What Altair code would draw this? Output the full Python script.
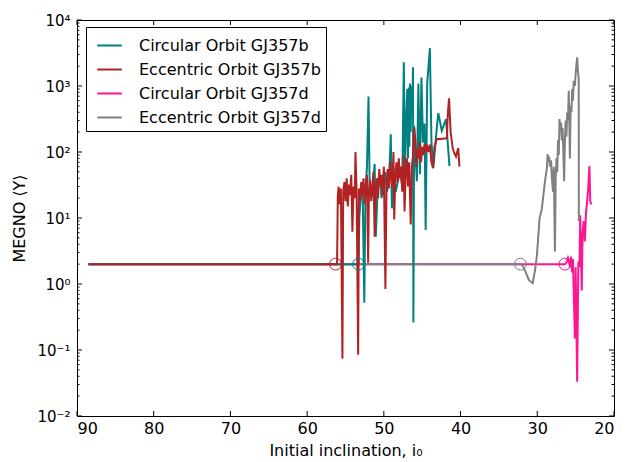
import altair as alt
import pandas as pd

# ---------------- data ----------------
series_names = ["Circular Orbit GJ357b", "Eccentric Orbit GJ357b",
                "Circular Orbit GJ357d", "Eccentric Orbit GJ357d"]
series_colors = ["#008080", "#B22222", "#FF1493", "#808080"]

teal_x = [88.5, 53.3, 53.2, 52.9, 52.75, 52.55, 52.4, 52.2, 52.0, 51.85, 51.6, 51.4, 51.2, 51.05,
          50.8, 50.5, 50.3, 50.1, 49.85, 49.6, 49.3, 49.1, 48.95, 48.7, 48.45, 48.2, 47.9, 47.6,
          47.4, 47.25, 47.1, 46.95, 46.85, 46.77, 46.68, 46.6, 46.5, 46.4, 46.3, 46.2, 46.15,
          46.05, 45.7, 45.5, 45.3, 45.1, 44.9, 44.7, 44.55, 44.35, 44.0, 43.8, 43.55, 43.1,
          42.9, 42.45, 41.9, 41.45]
teal_y = [2, 2, 10, 32, 20, 0.52, 25, 60, 690, 30, 20, 35, 66, 5.2,
          30, 45, 20, 35, 50, 25, 40, 186, 14, 45, 25, 35, 50, 30,
          2290, 45, 300, 900, 80, 950, 120, 1090, 200, 1000, 400, 1920, 0.26,
          250, 36, 1090, 46, 1340, 140, 270, 6.6, 1090, 3740, 147, 57, 233,
          390, 210, 316, 61]

red_x = [88.5, 56.3, 56.1, 56.0, 55.9, 55.75, 55.6, 55.4, 55.3, 55.15,
         55.0, 54.85, 54.7, 54.55, 54.4, 54.25, 54.1, 53.95, 53.8, 53.7,
         53.55, 53.35, 53.25, 53.1, 52.95, 52.8, 52.65, 52.5, 52.35, 52.2,
         52.05, 51.95, 51.8, 51.65, 51.5, 51.35, 51.2, 51.05, 50.9, 50.75,
         50.6, 50.45, 50.3, 50.15, 50.0, 49.8, 49.65, 49.5, 49.35, 49.2,
         49.05, 48.9, 48.75, 48.65, 48.5, 48.35, 48.2, 48.05, 47.9, 47.75,
         47.6, 47.45, 47.3, 47.15, 47.0, 46.85, 46.7, 46.5, 46.35, 46.2,
         46.05, 45.9, 45.75, 45.6, 45.45, 45.3, 45.15, 45.0, 44.85, 44.7,
         44.55, 44.4, 44.2, 44.0, 43.8, 43.6, 43.4, 43.1, 42.6, 42.2,
         41.8, 41.65, 41.5, 41.3, 41.0, 40.8, 40.6, 40.45, 40.3, 40.15]
red_y = [2, 2, 2, 22, 30, 16, 28, 0.074, 25, 35,
         18, 40, 15, 32, 22, 45, 6.2, 30, 20, 100,
         25, 0.085, 28, 18, 35, 22, 40, 16, 30, 45,
         2.1, 25, 38, 18, 30, 50, 5.2, 28, 40, 20,
         55, 30, 45, 22, 60, 0.84, 35, 55, 28, 70,
         40, 30, 100, 9.5, 45, 70, 35, 80, 40, 60,
         25, 90, 12.6, 50, 80, 30, 70, 8, 60, 90,
         230, 150, 60, 110, 80, 140, 70, 120, 90, 130,
         100, 130, 100, 130, 70, 57, 120, 158, 158, 160,
         160, 400, 650, 200, 110, 95, 85, 100, 115, 60]

pink_x = [88.5, 26.4, 26.2, 26.0, 25.9, 25.75, 25.6, 25.45, 25.35, 25.1, 25.0, 24.8, 24.65,
          24.5, 24.4, 24.3, 24.2, 24.1, 23.95, 23.8, 23.65, 23.5, 23.35, 23.2, 23.1, 22.95]
pink_y = [2, 2, 2.1, 2.5, 2.3, 1.8, 2.6, 1.5, 2.4, 0.15, 1.8, 0.033, 2.2,
          1.8, 11, 3, 0.8, 5.6, 9, 4.4, 12, 18, 30, 61, 18, 16]

gray_x = [88.5, 32.2, 31.9, 31.5, 31.1, 30.6, 30.3, 30.05, 29.7, 29.4, 29.0, 28.75, 28.65,
          28.55, 28.45, 28.35, 28.2, 28.1, 27.95, 27.85, 27.7, 27.6, 27.5, 27.4, 27.3, 27.2,
          27.1, 27.0, 26.9, 26.8, 26.7, 26.55, 26.5, 26.4, 26.3, 26.2, 26.1, 26.0, 25.9, 25.8,
          25.75, 25.65, 25.55, 25.45, 25.35, 25.25, 25.1, 24.95, 24.8, 24.7, 24.6, 24.58]
gray_y = [2, 2, 1.9, 1.5, 1.15, 1.03, 1.6, 2.7, 9.9, 14, 36, 57, 93,
          70, 85, 60, 75, 40, 25, 60, 3.1, 40, 80, 50, 150, 90,
          316, 200, 280, 150, 233, 60, 36, 147, 300, 170, 400, 300, 850, 200,
          80, 500, 400, 900, 600, 1200, 1000, 1800, 2720, 1700, 1300, 8.9]

# onset-of-chaos markers (open circles)
circle_x = [53.3, 56.3, 26.4, 32.2]
circle_y = [2, 2, 2, 2]

x_ticks = [90, 80, 70, 60, 50, 40, 30, 20]
y_major = [0.01, 0.1, 1, 10, 100, 1000, 10000]
y_major_labels = ["10⁻²", "10⁻¹", "10⁰", "10¹", "10²", "10³", "10⁴"]
y_minor = [k * 10.0 ** n for n in range(-2, 4) for k in range(2, 10)]

# ---------------- build ----------------
W, H = 537, 396
MAJ, MIN = 5, 2.5


def frame(name, xs, ys):
    return pd.DataFrame({"inc": xs, "megno": ys, "series": name, "idx": list(range(len(xs)))})


df_teal = frame(series_names[0], teal_x, teal_y)
df_red = frame(series_names[1], red_x, red_y)
df_pink = frame(series_names[2], pink_x, pink_y)
df_gray = frame(series_names[3], gray_x, gray_y)
df_circ = pd.DataFrame({"inc": circle_x, "megno": circle_y, "series": series_names})
df_xt = pd.DataFrame({"inc": x_ticks})
df_ymaj = pd.DataFrame({"megno": y_major})
df_ymin = pd.DataFrame({"megno": y_minor})

xs = alt.Scale(domain=[20, 90], reverse=True, nice=False, zero=False)
ys = alt.Scale(type="log", domain=[0.01, 10000], nice=False)
col = alt.Scale(domain=series_names, range=series_colors)

leg = alt.Legend(orient="none", legendX=9, legendY=7, title=None,
                 symbolType="stroke", symbolSize=600, symbolStrokeWidth=2, symbolOffset=5,
                 labelFontSize=16, labelFont="DejaVu Sans", labelColor="black",
                 labelOffset=16, labelLimit=400, rowPadding=2, padding=5,
                 strokeColor="black", fillColor="white", cornerRadius=0)

parts = []
for v, lab in zip(y_major, y_major_labels):
    parts.append(f"abs(datum.value - {v}) < {v} * 0.01 ? '{lab}' : ")
label_expr = "".join(parts) + "''"

x_lab = alt.Axis(orient="bottom", values=x_ticks, ticks=False, domain=False, grid=False,
                 labelFontSize=16, labelPadding=4, labelColor="black", format="d",
                 title="Initial inclination, i₀", titleFontSize=16, titleFontWeight="normal",
                 titleColor="black", titlePadding=6)
y_lab = alt.Axis(orient="left", values=y_major, ticks=False, domain=False, grid=False,
                 labelExpr=label_expr, labelFontSize=15, labelPadding=7, labelColor="black",
                 labelOverlap=False, title="MEGNO ⟨Y⟩", titleFontSize=16,
                 titleFontWeight="normal", titleColor="black", titlePadding=9)


def line_layer(df, xaxis, yaxis):
    return alt.Chart(df).mark_line(strokeWidth=2, clip=True).encode(
        x=alt.X("inc:Q", scale=xs, axis=xaxis),
        y=alt.Y("megno:Q", scale=ys, axis=yaxis),
        color=alt.Color("series:N", scale=col, legend=leg),
        order=alt.Order("idx:Q"),
    )


pink_layer = line_layer(df_pink, None, None)
gray_layer = line_layer(df_gray, None, None)
teal_layer = line_layer(df_teal, x_lab, y_lab)
red_layer = line_layer(df_red, None, None)

circ_layer = alt.Chart(df_circ).mark_point(shape="circle", filled=False, size=140,
                                           strokeWidth=1, opacity=1).encode(
    x=alt.X("inc:Q", scale=xs, axis=None),
    y=alt.Y("megno:Q", scale=ys, axis=None),
    stroke=alt.Stroke("series:N", scale=alt.Scale(domain=series_names, range=series_colors),
                      legend=None),
)

# inward ticks on all four sides
tick_style = dict(color="black", strokeWidth=1)
xt_bottom = alt.Chart(df_xt).mark_rule(**tick_style).encode(
    x=alt.X("inc:Q", scale=xs, axis=None), y=alt.value(H), y2=alt.value(H - MAJ))
xt_top = alt.Chart(df_xt).mark_rule(**tick_style).encode(
    x=alt.X("inc:Q", scale=xs, axis=None), y=alt.value(0), y2=alt.value(MAJ))
yt_left = alt.Chart(df_ymaj).mark_rule(**tick_style).encode(
    y=alt.Y("megno:Q", scale=ys, axis=None), x=alt.value(0), x2=alt.value(MAJ))
yt_right = alt.Chart(df_ymaj).mark_rule(**tick_style).encode(
    y=alt.Y("megno:Q", scale=ys, axis=None), x=alt.value(W), x2=alt.value(W - MAJ))
ym_left = alt.Chart(df_ymin).mark_rule(**tick_style).encode(
    y=alt.Y("megno:Q", scale=ys, axis=None), x=alt.value(0), x2=alt.value(MIN))
ym_right = alt.Chart(df_ymin).mark_rule(**tick_style).encode(
    y=alt.Y("megno:Q", scale=ys, axis=None), x=alt.value(W), x2=alt.value(W - MIN))

chart = alt.layer(
    pink_layer, gray_layer, teal_layer, red_layer, circ_layer,
    xt_bottom, xt_top, yt_left, yt_right, ym_left, ym_right,
).resolve_axis(x="independent", y="independent").properties(
    width=W, height=H,
    autosize=alt.AutoSizeParams(type="none"),
    padding={"left": 77, "top": 20, "right": 12, "bottom": 46},
).configure(font="DejaVu Sans").configure_view(stroke="black", strokeWidth=1)

chart.save("out.html", embed_options={"renderer": "svg", "actions": False})
